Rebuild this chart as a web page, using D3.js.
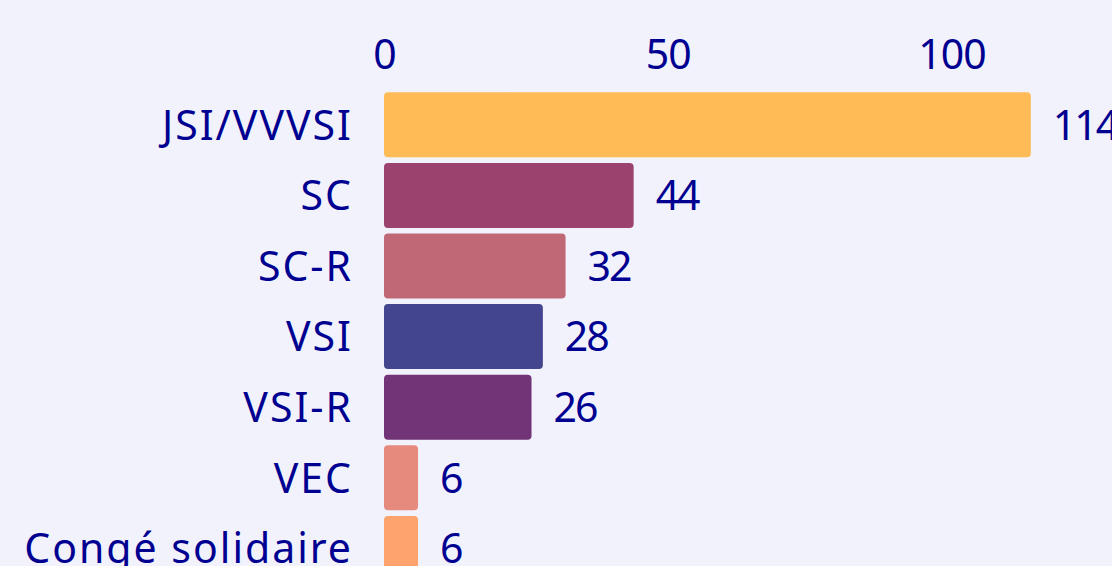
<!DOCTYPE html>
<html>
<head>
<meta charset="utf-8">
<script src="https://cdn.jsdelivr.net/npm/d3@7"></script>
<style>
  html, body { margin: 0; padding: 0; background: #f2f2fc; overflow: hidden; }
  svg text { font-family: "Noto Sans", sans-serif; fill: #000091; }
</style>
</head>
<body>
<div id="chart"></div>
<script>
// Data
var categories = ["JSI/VVVSI", "SC", "SC-R", "VSI", "VSI-R", "VEC", "Congé solidaire"];
var values = [114, 44, 32, 28, 26, 6, 6];
var colors = ["#ffbb55", "#9b426f", "#c06876", "#44458f", "#723377", "#e68a7e", "#fda36e"];
var tickValues = [0, 50, 100];

var width = 1112, height = 566;
var margin = {top: 89.5, left: 384};
var fontSize = "41px";

var svg = d3.select("#chart")
  .append("svg")
  .attr("width", width)
  .attr("height", height);

// Scales
var xScale = d3.scaleLinear()
  .domain([0, 100])
  .range([margin.left, margin.left + 567.4]);

var yScale = d3.scaleBand()
  .domain(categories)
  .range([margin.top, margin.top + 70.6 * categories.length])
  .paddingInner(0.08)
  .paddingOuter(0.04);

// Top axis labels
var xAxis = d3.axisTop(xScale)
  .tickValues(tickValues)
  .tickSize(0)
  .tickPadding(0);

var xAxisGroup = svg.append("g")
  .attr("transform", "translate(0,69)")
  .call(xAxis);
xAxisGroup.select(".domain").remove();
xAxisGroup.selectAll("text")
  .style("font-size", fontSize)
  .style("letter-spacing", "-1px")
  .attr("fill", null);

// Category labels
var yAxis = d3.axisLeft(yScale).tickSize(0).tickPadding(0);
var yAxisGroup = svg.append("g")
  .attr("transform", "translate(353,0)")
  .call(yAxis);
yAxisGroup.select(".domain").remove();
yAxisGroup.selectAll("text")
  .style("font-size", fontSize)
  .style("letter-spacing", "2px")
  .attr("fill", null)
  .attr("dy", "0.36em");

// Bars
svg.selectAll("rect.bar")
  .data(values)
  .enter()
  .append("rect")
  .attr("class", "bar")
  .attr("x", xScale(0))
  .attr("y", function(d, i) { return yScale(categories[i]); })
  .attr("width", function(d) { return xScale(d) - xScale(0); })
  .attr("height", yScale.bandwidth())
  .attr("rx", 4)
  .attr("fill", function(d, i) { return colors[i]; });

// Value labels
svg.selectAll("text.value")
  .data(values)
  .enter()
  .append("text")
  .attr("class", "value")
  .attr("x", function(d) { return xScale(d) + 22; })
  .attr("y", function(d, i) { return yScale(categories[i]) + yScale.bandwidth() / 2; })
  .attr("dy", "0.36em")
  .style("font-size", fontSize)
  .style("letter-spacing", "-2px")
  .text(function(d) { return d; });
</script>
</body>
</html>
